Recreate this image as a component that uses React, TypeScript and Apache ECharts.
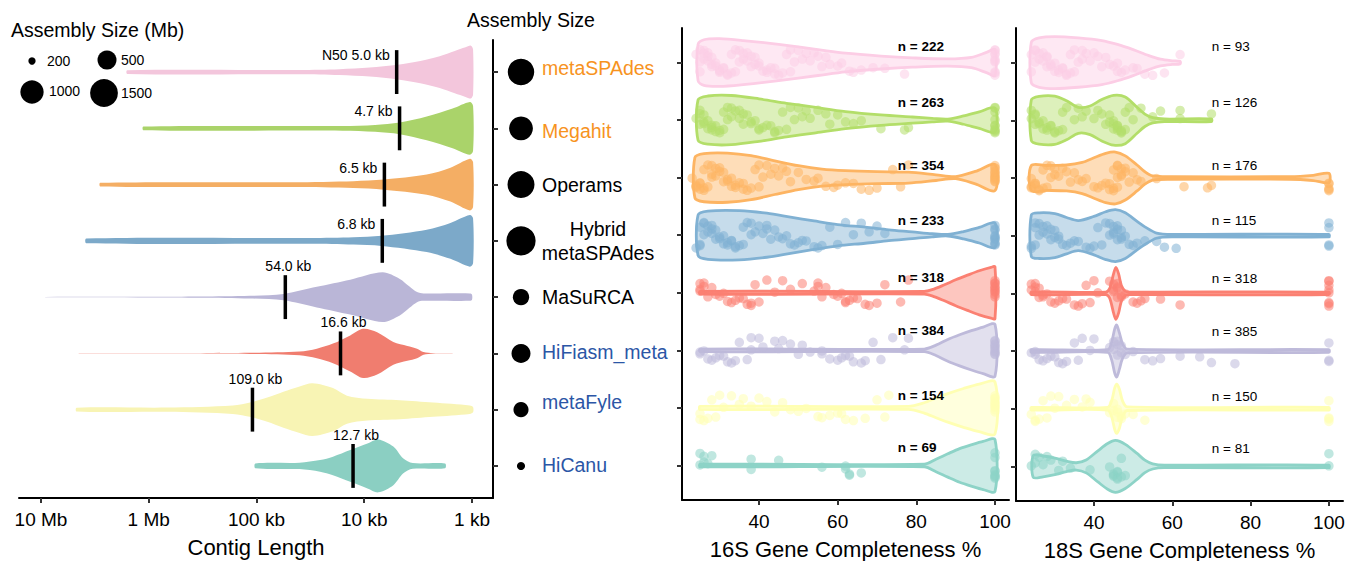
import React, { useEffect, useRef } from "react";
import * as echarts from "echarts";

const FONT = "'Liberation Sans', Arial, sans-serif";

// ---------- categories & styling ----------
const ASSEMBLERS = ["metaSPAdes", "Megahit", "Operams", "Hybrid metaSPAdes", "MaSuRCA", "HiFiasm_meta", "metaFyle", "HiCanu"];
const COLORS = ["#FCCDE5", "#B3DE69", "#FDB462", "#80B1D3", "#FB8072", "#BEBADA", "#FFFFB3", "#8DD3C7"];
const CONTIG_COLORS = ["#F3C6DC", "#AAD36A", "#F4AE64", "#7CA9C9", "#BAB6D7", "#F07D6F", "#F8F4B4", "#8BCFC2"];
const LABEL_COLORS = ["#F7931E", "#F7931E", "#000000", "#000000", "#000000", "#2B56A6", "#2B56A6", "#2B56A6"];
const LABEL_DY = [-4, 3, 0, 0, 0, -1, -8, -1];

// ---------- assembly size (Mb) ----------
const ASSEMBLY_SIZE_MB = [1350, 1060, 1410, 1660, 430, 500, 400, 220];
const SIZE_BREAKS = [200, 500, 1000, 1500];
const SIZE_PX = [7.3, 19, 23.3, 27.8];

// ---------- contig length ----------
const N50_KB = [5.0, 4.7, 6.5, 6.8, 54.0, 16.6, 109.0, 12.7];
const CONTIG_TICKS = [7, 6, 5, 4, 3];
const CONTIG_TICK_LABELS = ["10 Mb", "1 Mb", "100 kb", "10 kb", "1 kb"];
// [log10(contig length), relative density half-width]
const CONTIG_METASPADES = [[6.2, 0.07], [4.6, 0.08], [4.23, 0.11], [3.95, 0.17], [3.69, 0.28], [3.48, 0.42], [3.3, 0.6], [3.16, 0.8], [3.06, 0.94], [3.01, 1.0], [2.99, 0.85]];
const CONTIG_MEGAHIT = [[6.05, 0.07], [4.2, 0.09], [3.9, 0.13], [3.67, 0.22], [3.42, 0.45], [3.18, 0.75], [3.02, 1.0], [2.99, 0.85]];
const CONTIG_OPERAMS = [[6.45, 0.07], [4.66, 0.09], [4.1, 0.13], [3.82, 0.19], [3.42, 0.38], [3.2, 0.64], [3.02, 0.98], [2.99, 0.85]];
const CONTIG_HYBRID = [[6.58, 0.09], [4.5, 0.11], [4.1, 0.14], [3.84, 0.19], [3.42, 0.42], [3.2, 0.68], [3.02, 0.98], [2.99, 0.85]];
const CONTIG_MASURCA = [[6.96, 0.004], [5.99, 0.01], [5.52, 0.02], [5.06, 0.05], [4.75, 0.12], [4.44, 0.39], [4.13, 0.66], [3.83, 0.94], [3.67, 0.69], [3.58, 0.4], [3.51, 0.19], [3.45, 0.14], [3.02, 0.14], [3.0, 0.1]];
const CONTIG_HIFIASM = [[6.65, 0.004], [5.52, 0.008], [5.06, 0.02], [4.6, 0.07], [4.44, 0.18], [4.29, 0.37], [4.13, 0.68], [4.01, 0.93], [3.88, 0.8], [3.73, 0.43], [3.6, 0.28], [3.51, 0.18], [3.45, 0.05], [3.36, 0.01], [3.18, 0.003]];
const CONTIG_METAFYLE = [[6.67, 0.07], [5.83, 0.08], [5.22, 0.16], [5.05, 0.28], [4.9, 0.46], [4.75, 0.68], [4.6, 0.88], [4.48, 1.0], [4.29, 0.82], [4.16, 0.53], [3.97, 0.41], [3.67, 0.36], [3.36, 0.27], [3.02, 0.16], [2.99, 0.1]];
const CONTIG_HICANU = [[5.01, 0.09], [4.6, 0.12], [4.41, 0.22], [4.29, 0.35], [4.13, 0.6], [3.97, 0.85], [3.87, 1.0], [3.73, 0.73], [3.64, 0.29], [3.55, 0.11], [3.25, 0.09]];
const CONTIG_PROFILES = [CONTIG_METASPADES, CONTIG_MEGAHIT, CONTIG_OPERAMS, CONTIG_HYBRID, CONTIG_MASURCA, CONTIG_HIFIASM, CONTIG_METAFYLE, CONTIG_HICANU];

// ---------- 16S completeness ----------
const N16S = [222, 263, 354, 233, 318, 384, 154, 69];
const COMPLETENESS_TICKS = [40, 60, 80, 100];
const V16_METASPADES = [[24.5, 0.7], [26, 0.88], [30, 0.92], [36, 0.85], [45, 0.7], [55, 0.5], [62, 0.36], [71, 0.25], [79, 0.18], [88, 0.14], [94, 0.2], [98, 0.4], [100, 0.5]];
const V16_MEGAHIT = [[24.5, 0.78], [27, 0.93], [33, 0.95], [40, 0.82], [47, 0.65], [54, 0.5], [62, 0.33], [71, 0.2], [79, 0.12], [84, 0.07], [88, 0.04], [92, 0.16], [96, 0.32], [100, 0.46]];
const V16_OPERAMS = [[23.7, 0.78], [26, 0.93], [32, 0.95], [38, 0.85], [44, 0.65], [50, 0.46], [56, 0.33], [62, 0.27], [70, 0.23], [78, 0.21], [85, 0.11], [90, 0.04], [95, 0.24], [100, 0.5]];
const V16_HYBRID = [[24.5, 0.78], [27, 0.93], [35, 0.95], [42, 0.85], [48, 0.7], [54, 0.55], [60, 0.41], [67, 0.31], [73, 0.21], [79, 0.13], [84, 0.06], [88, 0.03], [92, 0.14], [96, 0.3], [100, 0.47]];
const V16_MASURCA = [[25, 0.05], [82, 0.05], [84, 0.12], [87, 0.3], [90, 0.5], [93, 0.68], [96, 0.85], [99, 0.98], [100, 1]];
const V16_HIFIASM = [[25, 0.05], [82, 0.05], [85, 0.2], [88, 0.42], [91, 0.6], [94, 0.76], [97, 0.9], [100, 1]];
const V16_METAFYLE = [[25, 0.06], [78, 0.06], [82, 0.2], [85, 0.38], [88, 0.55], [92, 0.75], [96, 0.92], [100, 1]];
const V16_HICANU = [[25, 0.05], [82, 0.05], [85, 0.24], [88, 0.45], [91, 0.65], [94, 0.8], [97, 0.93], [100, 1]];
const V16_PROFILES = [V16_METASPADES, V16_MEGAHIT, V16_OPERAMS, V16_HYBRID, V16_MASURCA, V16_HIFIASM, V16_METAFYLE, V16_HICANU];

const P16_METASPADES = [24, 25, 25, 25, 26, 26, 26, 27, 27, 27, 28, 28, 28, 29, 29, 30, 30, 30, 31, 31, 32, 32, 33, 33, 34, 34, 35, 35, 36, 36, 37, 37, 38, 38, 39, 39, 40, 40, 41, 42, 42, 43, 44, 44, 45, 46, 47, 48, 48, 49, 50, 51, 52, 53, 54, 55, 56, 57, 58, 60, 61, 63, 64, 66, 69, 72, 77, 100, 100, 100, 100, 100, 100, 100, 100, 100, 100];
const P16_MEGAHIT = [24, 25, 25, 25, 26, 26, 26, 27, 27, 28, 28, 28, 29, 29, 30, 30, 31, 31, 32, 32, 33, 33, 34, 35, 35, 36, 36, 37, 38, 38, 39, 40, 40, 41, 42, 43, 44, 44, 45, 46, 47, 48, 49, 50, 51, 52, 53, 55, 57, 58, 60, 62, 64, 66, 71, 77, 78, 100, 100, 100, 100, 100, 100, 100, 100, 100, 100];
const P16_OPERAMS = [23, 24, 24, 24, 25, 25, 25, 26, 26, 26, 27, 27, 28, 28, 28, 29, 29, 30, 30, 31, 31, 32, 32, 33, 33, 34, 34, 35, 36, 36, 37, 38, 39, 40, 40, 41, 42, 43, 44, 45, 46, 47, 48, 50, 52, 54, 55, 57, 59, 60, 62, 64, 66, 68, 70, 74, 76, 78, 100, 100, 100, 100, 100, 100, 100, 100, 100, 100, 100, 100];
const P16_HYBRID = [24, 25, 25, 25, 26, 26, 26, 27, 27, 28, 28, 28, 29, 29, 30, 30, 31, 31, 32, 32, 33, 33, 34, 34, 35, 36, 36, 37, 38, 38, 39, 40, 41, 42, 42, 43, 44, 45, 46, 47, 48, 49, 50, 51, 52, 54, 55, 56, 58, 60, 62, 64, 66, 68, 70, 72, 100, 100, 100, 100, 100, 100, 100, 100, 100, 100];
const P16_MASURCA = [25, 25, 25, 26, 26, 27, 28, 29, 30, 31, 32, 33, 34, 35, 36, 37, 38, 38, 39, 40, 42, 44, 46, 48, 51, 54, 55, 55, 56, 57, 59, 60, 61, 62, 62, 63, 64, 65, 67, 68, 70, 72, 76, 78, 100, 100, 100, 100, 100, 100, 100, 100, 100, 100];
const P16_HIFIASM = [25, 25, 26, 27, 28, 29, 30, 31, 32, 33, 34, 35, 37, 38, 38, 40, 41, 44, 45, 46, 48, 50, 51, 53, 56, 56, 58, 60, 61, 62, 63, 64, 66, 67, 69, 71, 74, 77, 78, 100, 100, 100, 100, 100, 100, 100, 100, 100, 100];
const P16_METAFYLE = [25, 25, 26, 27, 28, 29, 30, 31, 33, 35, 36, 38, 40, 42, 44, 46, 48, 50, 52, 55, 56, 58, 60, 61, 62, 64, 67, 70, 72, 73, 100, 100, 100, 100, 100, 100, 100, 100, 100, 100];
const P16_HICANU = [25, 25, 26, 26, 27, 28, 38, 38, 45, 56, 62, 62, 63, 63, 66, 100, 100, 100, 100, 100, 100, 100, 100];
const P16_POINTS = [P16_METASPADES, P16_MEGAHIT, P16_OPERAMS, P16_HYBRID, P16_MASURCA, P16_HIFIASM, P16_METAFYLE, P16_HICANU];

// ---------- 18S completeness ----------
const N18S = [93, 126, 176, 115, 318, 385, 150, 81];
const V18_METASPADES = [[24, 0.78], [26, 0.95], [30, 1.0], [36, 0.95], [42, 0.85], [46, 0.7], [50, 0.5], [54, 0.27], [57, 0.13], [60, 0.07], [62, 0.05]];
const V18_MEGAHIT = [[24, 0.78], [26, 0.92], [30, 0.93], [33, 0.75], [36, 0.5], [39, 0.55], [42, 0.8], [45, 0.96], [48, 0.9], [51, 0.5], [53, 0.24], [55, 0.1], [58, 0.05], [70, 0.05]];
const V18_OPERAMS = [[24, 0.48], [28, 0.48], [33, 0.5], [37, 0.6], [40, 0.78], [43, 0.95], [45.5, 1.0], [48, 0.85], [51, 0.5], [53, 0.24], [55, 0.08], [60, 0.05], [90, 0.05], [96, 0.1], [100, 0.18]];
const V18_HYBRID = [[24, 0.8], [26, 0.88], [30, 0.85], [33, 0.7], [36, 0.58], [40, 0.74], [43, 0.92], [45.5, 1.0], [48, 0.88], [51, 0.55], [53, 0.34], [56, 0.1], [60, 0.05], [100, 0.05]];
const V18_MASURCA = [[24, 0.05], [43, 0.05], [44, 0.18], [45, 0.75], [45.6, 1.0], [46.3, 0.75], [47, 0.3], [48, 0.08], [49, 0.05], [100, 0.05]];
const V18_HIFIASM = [[24, 0.05], [43.5, 0.05], [44.5, 0.33], [45.3, 0.85], [45.8, 1.0], [46.5, 0.7], [47.3, 0.28], [48.5, 0.07], [100, 0.05]];
const V18_METAFYLE = [[24, 0.05], [43.5, 0.05], [44.5, 0.3], [45.3, 0.8], [45.8, 0.95], [46.5, 0.75], [47.3, 0.3], [48.5, 0.07], [100, 0.05]];
const V18_HICANU = [[24.5, 0.42], [27, 0.4], [30, 0.32], [33, 0.2], [35.5, 0.14], [38, 0.25], [41, 0.6], [43.5, 0.88], [45.5, 1.0], [48, 0.85], [51, 0.5], [53, 0.24], [55, 0.1], [58, 0.05], [100, 0.05]];
const V18_PROFILES = [V18_METASPADES, V18_MEGAHIT, V18_OPERAMS, V18_HYBRID, V18_MASURCA, V18_HIFIASM, V18_METAFYLE, V18_HICANU];

const P18_METASPADES = [24, 24, 25, 25, 25, 26, 26, 27, 27, 28, 28, 28, 29, 29, 30, 30, 31, 31, 32, 32, 33, 33, 34, 34, 35, 35, 36, 37, 37, 38, 39, 40, 41, 42, 43, 44, 45, 46, 46, 47, 48, 50, 51, 53, 55, 58, 62];
const P18_MEGAHIT = [24, 24, 25, 25, 25, 26, 26, 27, 27, 28, 28, 29, 29, 30, 30, 31, 32, 32, 33, 35, 36, 37, 38, 40, 41, 42, 43, 44, 44, 45, 45, 45, 46, 46, 46, 46, 47, 47, 47, 48, 48, 49, 50, 52, 55, 57, 62, 62, 70];
const P18_OPERAMS = [24, 24, 24, 25, 25, 25, 26, 26, 27, 27, 28, 28, 29, 29, 30, 30, 31, 32, 33, 34, 35, 36, 37, 38, 40, 41, 42, 43, 44, 44, 45, 45, 45, 46, 46, 46, 46, 47, 47, 47, 48, 48, 49, 50, 51, 52, 56, 63, 69, 70, 100, 100, 100, 100, 100];
const P18_HYBRID = [24, 24, 25, 25, 25, 26, 26, 27, 27, 28, 28, 29, 29, 30, 30, 31, 31, 32, 33, 34, 35, 36, 38, 39, 40, 41, 42, 43, 44, 44, 45, 45, 45, 46, 46, 46, 47, 47, 47, 48, 49, 50, 51, 53, 56, 58, 61, 100, 100, 100, 100];
const P18_MASURCA = [24, 24, 25, 25, 25, 26, 26, 27, 27, 28, 29, 30, 31, 32, 33, 35, 36, 37, 38, 39, 40, 41, 44, 45, 45, 45, 46, 46, 46, 46, 47, 47, 48, 50, 51, 52, 53, 57, 62, 100, 100, 100, 100, 100, 100, 100, 100];
const P18_HIFIASM = [24, 25, 25, 26, 27, 28, 29, 30, 31, 32, 33, 35, 36, 37, 39, 40, 44, 45, 45, 46, 46, 46, 47, 47, 48, 50, 53, 55, 57, 62, 67, 70, 76, 100, 100, 100];
const P18_METAFYLE = [24, 25, 25, 26, 27, 28, 29, 30, 31, 33, 35, 37, 38, 39, 44, 45, 45, 46, 46, 46, 47, 47, 48, 50, 53, 100, 100, 100, 100];
const P18_HICANU = [24, 25, 25, 26, 27, 28, 29, 31, 32, 34, 39, 44, 45, 45, 45, 46, 46, 46, 46, 47, 47, 48, 100, 100];
const P18_POINTS = [P18_METASPADES, P18_MEGAHIT, P18_OPERAMS, P18_HYBRID, P18_MASURCA, P18_HIFIASM, P18_METAFYLE, P18_HICANU];

// fixed jitter pattern (vertical offsets, in row units) for the points
const JITTER = [-0.14, 0.07, 0.2, -0.03, 0.13, -0.21, 0.01, 0.16, -0.09, 0.22, -0.17, 0.09, -0.06, 0.15, -0.22, 0.03, 0.18, -0.11, 0.1, -0.16, 0.17, -0.01, 0.06];
const N_LABEL_DY = [-16, -18, -12, -15, -15, -20, -12, -18];

const ROWS = [0, 1, 2, 3, 4, 5, 6, 7];

function sizeFor(v: number): number {
  let i = 0;
  while (i < SIZE_BREAKS.length - 2 && v > SIZE_BREAKS[i + 1]) i++;
  const t = (v - SIZE_BREAKS[i]) / (SIZE_BREAKS[i + 1] - SIZE_BREAKS[i]);
  return Math.max(3, SIZE_PX[i] + t * (SIZE_PX[i + 1] - SIZE_PX[i]));
}

function violinPoints(api: any, prof: number[][], row: number, half: number) {
  const top = prof.map(([v, w]) => api.coord([v, row - w * half]));
  const bot = prof.slice().reverse().map(([v, w]) => api.coord([v, row + w * half]));
  return top.concat(bot);
}

function completenessViolin(profiles: number[][][]) {
  return (params: any, api: any) => {
    const row = api.value(1);
    const c = COLORS[row];
    return {
      type: "polygon",
      shape: { points: violinPoints(api, profiles[row], row, 0.45), smooth: 0.3 },
      style: { fill: echarts.color.modifyAlpha(c, 0.45), stroke: c, lineWidth: 2.8, lineJoin: "round" },
    };
  };
}

function nLabels(counts: number[], anchor: number, bold: boolean) {
  return (params: any, api: any) => {
    const row = api.value(1);
    const p = api.coord([anchor, row]);
    return {
      type: "text",
      x: p[0],
      y: p[1] + N_LABEL_DY[row],
      style: {
        text: "n = " + counts[row],
        fill: "#000",
        fontSize: 13.5,
        fontWeight: bold ? "bold" : "normal",
        fontFamily: FONT,
        align: "left",
        verticalAlign: "middle",
      },
    };
  };
}

function pointData(lists: number[][]) {
  const out: any[] = [];
  lists.forEach((vals, row) => {
    vals.forEach((v, j) => {
      out.push({
        value: [v, row + JITTER[(j * 7 + row * 3) % JITTER.length]],
        itemStyle: { color: COLORS[row], opacity: 0.55 },
      });
    });
  });
  return out;
}

export default function App() {
  const ref = useRef<HTMLDivElement>(null);
  useEffect(() => {
    const chart = echarts.init(ref.current!, null, { renderer: "svg" });

    const axisBlack = { show: true, onZero: false, lineStyle: { color: "#000", width: 2 } };
    const tickStyle = { color: "#333", width: 2 };

    const completenessX = (gridIndex: number, min: number, max: number, name: string) => ({
      gridIndex,
      type: "value",
      min,
      max,
      axisLine: axisBlack,
      axisTick: { show: true, customValues: COMPLETENESS_TICKS, length: 5, lineStyle: tickStyle },
      axisLabel: { customValues: COMPLETENESS_TICKS, fontSize: 19, color: "#000", margin: 12, fontFamily: FONT },
      splitLine: { show: false },
      name,
      nameLocation: "middle",
      nameGap: 38,
      nameTextStyle: { fontSize: 22, color: "#000", fontFamily: FONT },
    });

    const rowY = (gridIndex: number, min: number, max: number, inside: boolean) => ({
      gridIndex,
      type: "value",
      min,
      max,
      inverse: true,
      show: true,
      axisLine: { show: true, onZero: false, lineStyle: { color: "#000", width: 2 } },
      axisTick: { show: true, customValues: ROWS, inside, length: 5, lineStyle: tickStyle },
      axisLabel: { show: false },
      splitLine: { show: false },
    });

    const legendGraphics: any[] = [];
    const legendPos = [[32, 61, 47, 61], [107, 60, 121, 60], [32, 92, 49, 91], [104, 93, 121, 93]];
    SIZE_BREAKS.forEach((b, i) => {
      const [cx, cy, tx, ty] = legendPos[i];
      legendGraphics.push({ type: "circle", shape: { cx, cy, r: sizeFor(b) / 2 }, style: { fill: "#000" } });
      legendGraphics.push({
        type: "text",
        x: tx,
        y: ty,
        style: { text: String(b), fill: "#000", fontSize: 14, fontFamily: FONT, verticalAlign: "middle", align: "left" },
      });
    });

    const option: any = {
      animation: false,
      textStyle: { fontFamily: FONT },
      grid: [
        { left: 19, top: 40, width: 474, height: 458, containLabel: false, outerBoundsMode: "none" },
        { left: 493, top: 40, width: 250, height: 458, containLabel: false, outerBoundsMode: "none" },
        { left: 682, top: 28, width: 327, height: 472, containLabel: false, outerBoundsMode: "none" },
        { left: 1016, top: 28, width: 327, height: 473, containLabel: false, outerBoundsMode: "none" },
      ],
      xAxis: [
        {
          gridIndex: 0,
          type: "value",
          min: 2.805,
          max: 7.204,
          inverse: true,
          axisLine: axisBlack,
          axisTick: { show: true, customValues: CONTIG_TICKS, length: 5, lineStyle: tickStyle },
          axisLabel: {
            customValues: CONTIG_TICKS,
            fontSize: 19,
            color: "#000",
            margin: 12,
            fontFamily: FONT,
            formatter: (v: number) => {
              const i = CONTIG_TICKS.indexOf(Math.round(v));
              return i >= 0 ? CONTIG_TICK_LABELS[i] : "";
            },
          },
          splitLine: { show: false },
          name: "Contig Length",
          nameLocation: "middle",
          nameGap: 38,
          nameTextStyle: { fontSize: 22, color: "#000", fontFamily: FONT },
        },
        { gridIndex: 1, type: "value", min: 0, max: 1, show: false },
        completenessX(2, 20.42, 103.56, "16S Gene Completeness %"),
        completenessX(3, 20.09, 103.6, "18S Gene Completeness %"),
      ],
      yAxis: [
        { gridIndex: 0, type: "value", min: -0.57, max: 7.57, inverse: true, show: false },
        rowY(1, -0.57, 7.57, true),
        rowY(2, -0.6, 7.6, false),
        rowY(3, -0.6, 7.6, false),
      ],
      series: [
        // contig length violins with N50 markers
        {
          type: "custom",
          xAxisIndex: 0,
          yAxisIndex: 0,
          data: ROWS.map((r) => [5, r]),
          z: 2,
          renderItem: (params: any, api: any) => {
            const row = api.value(1);
            const n50 = Math.log10(N50_KB[row] * 1000);
            const a = api.coord([n50, row - 0.39]);
            const b = api.coord([n50, row + 0.39]);
            const label = (row === 0 ? "N50 " : "") + N50_KB[row].toFixed(1) + " kb";
            const left = row < 4;
            return {
              type: "group",
              children: [
                {
                  type: "polygon",
                  shape: { points: violinPoints(api, CONTIG_PROFILES[row], row, 0.47), smooth: 0.3 },
                  style: { fill: CONTIG_COLORS[row] },
                },
                {
                  type: "line",
                  shape: { x1: a[0], y1: a[1], x2: b[0], y2: b[1] },
                  style: { stroke: "#000", lineWidth: 3.5 },
                },
                {
                  type: "text",
                  x: left ? a[0] - 7 : a[0] + 3,
                  y: left ? a[1] + 5 : a[1] - 9,
                  style: {
                    text: label,
                    fill: "#000",
                    fontSize: 14,
                    fontFamily: FONT,
                    align: left ? "right" : "center",
                    verticalAlign: "middle",
                  },
                },
              ],
            };
          },
        },
        // assembly size dots & names
        {
          type: "custom",
          xAxisIndex: 1,
          yAxisIndex: 1,
          data: ROWS.map((r) => [0.112, r]),
          z: 2,
          renderItem: (params: any, api: any) => {
            const row = api.value(1);
            const p = api.coord([api.value(0), row]);
            const d = sizeFor(ASSEMBLY_SIZE_MB[row]);
            const twoLine = ASSEMBLERS[row].indexOf(" ") >= 0;
            return {
              type: "group",
              children: [
                { type: "circle", shape: { cx: p[0], cy: p[1], r: d / 2 }, style: { fill: "#000" } },
                {
                  type: "text",
                  x: twoLine ? p[0] + 77 : p[0] + 21,
                  y: p[1] + LABEL_DY[row],
                  style: {
                    text: ASSEMBLERS[row].replace(" ", "\n"),
                    fill: LABEL_COLORS[row],
                    fontSize: 19.5,
                    fontFamily: FONT,
                    align: twoLine ? "center" : "left",
                    verticalAlign: "middle",
                    lineHeight: 24,
                  },
                },
              ],
            };
          },
        },
        // 16S
        {
          type: "custom",
          xAxisIndex: 2,
          yAxisIndex: 2,
          data: ROWS.map((r) => [60, r]),
          z: 2,
          renderItem: completenessViolin(V16_PROFILES),
        },
        {
          type: "scatter",
          xAxisIndex: 2,
          yAxisIndex: 2,
          symbolSize: 9.5,
          silent: true,
          z: 3,
          data: pointData(P16_POINTS),
        },
        {
          type: "custom",
          xAxisIndex: 2,
          yAxisIndex: 2,
          data: ROWS.map((r) => [60, r]),
          z: 4,
          renderItem: nLabels(N16S, 75.3, true),
        },
        // 18S
        {
          type: "custom",
          xAxisIndex: 3,
          yAxisIndex: 3,
          data: ROWS.map((r) => [60, r]),
          z: 2,
          renderItem: completenessViolin(V18_PROFILES),
        },
        {
          type: "scatter",
          xAxisIndex: 3,
          yAxisIndex: 3,
          symbolSize: 9.5,
          silent: true,
          z: 3,
          data: pointData(P18_POINTS),
        },
        {
          type: "custom",
          xAxisIndex: 3,
          yAxisIndex: 3,
          data: ROWS.map((r) => [60, r]),
          z: 4,
          renderItem: nLabels(N18S, 70.1, false),
        },
      ],
      graphic: [
        {
          type: "text",
          x: 11,
          y: 30,
          style: { text: "Assembly Size (Mb)", fill: "#000", fontSize: 19.5, fontFamily: FONT, verticalAlign: "middle" },
        },
        {
          type: "text",
          x: 467,
          y: 20,
          style: { text: "Assembly Size", fill: "#000", fontSize: 19.5, fontFamily: FONT, verticalAlign: "middle" },
        },
        ...legendGraphics,
      ],
    };

    chart.setOption(option);
    return () => chart.dispose();
  }, []);

  return (
    <div
      ref={ref}
      style={{ position: "fixed", left: 0, top: 0, width: 1349, height: 561, background: "#fff" }}
    />
  );
}
